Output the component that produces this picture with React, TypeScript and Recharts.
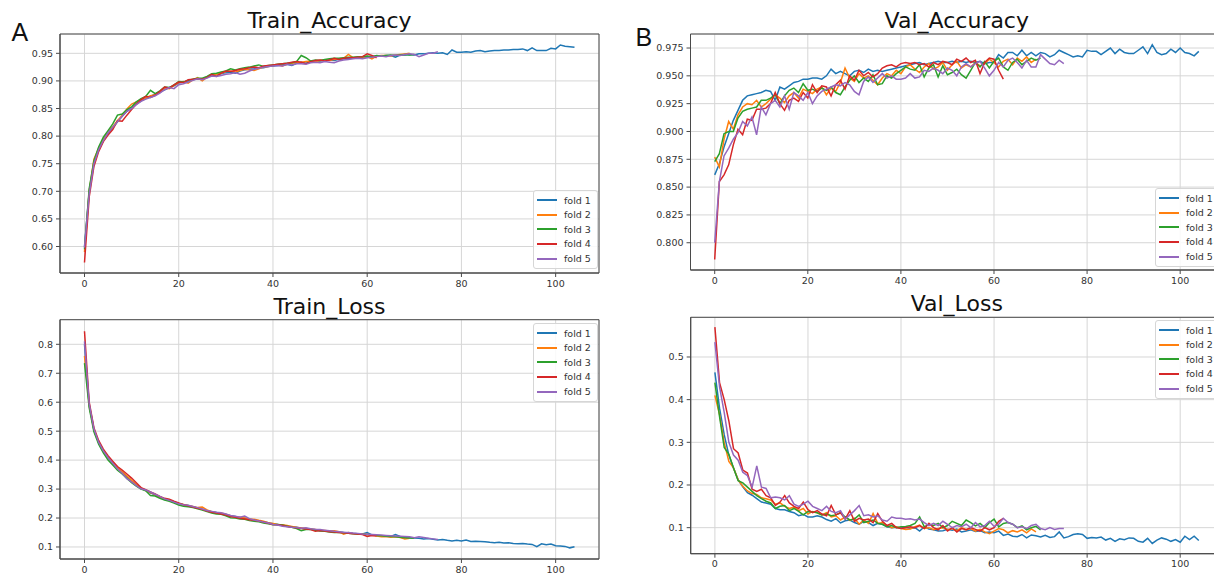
import React from 'react';
import { LineChart, Line, XAxis, YAxis, CartesianGrid, Legend, ReferenceArea } from 'recharts';

const foldNames = ['fold 1', 'fold 2', 'fold 3', 'fold 4', 'fold 5'];
const foldKeys = ['f1', 'f2', 'f3', 'f4', 'f5'];
const foldColors = ['#1f77b4', '#ff7f0e', '#2ca02c', '#d62728', '#9467bd'];
const xTicks = [0, 20, 40, 60, 80, 100];
const epochCount = 105;

// ---------- Train accuracy ----------
const trainAccF1 = [
  0.600, 0.700, 0.752, 0.776, 0.792, 0.805, 0.815, 0.826, 0.836, 0.845,
  0.851, 0.858, 0.864, 0.868, 0.872, 0.876, 0.880, 0.884, 0.888, 0.891,
  0.896, 0.898, 0.900, 0.902, 0.904, 0.903, 0.907, 0.910, 0.911, 0.913,
  0.915, 0.916, 0.914, 0.918, 0.920, 0.921, 0.922, 0.924, 0.924, 0.926,
  0.927, 0.928, 0.929, 0.930, 0.928, 0.932, 0.934, 0.932, 0.935, 0.936,
  0.936, 0.937, 0.938, 0.937, 0.939, 0.940, 0.941, 0.941, 0.942, 0.943,
  0.943, 0.944, 0.945, 0.945, 0.946, 0.946, 0.943, 0.947, 0.947, 0.948,
  0.947, 0.949, 0.949, 0.950, 0.951, 0.950, 0.951, 0.948, 0.956, 0.952,
  0.952, 0.953, 0.952, 0.954, 0.955, 0.953, 0.954, 0.955, 0.955, 0.956,
  0.956, 0.957, 0.957, 0.958, 0.955, 0.960, 0.955, 0.955, 0.955, 0.959,
  0.958, 0.965, 0.963, 0.962, 0.961,
];
const trainAccF2 = [
  0.590, 0.700, 0.758, 0.778, 0.795, 0.808, 0.817, 0.828, 0.838, 0.849,
  0.858, 0.862, 0.866, 0.869, 0.873, 0.875, 0.880, 0.887, 0.886, 0.892,
  0.897, 0.899, 0.896, 0.902, 0.906, 0.900, 0.907, 0.911, 0.912, 0.914,
  0.917, 0.918, 0.916, 0.919, 0.921, 0.920, 0.919, 0.922, 0.925, 0.926,
  0.928, 0.929, 0.927, 0.930, 0.932, 0.933, 0.934, 0.935, 0.936, 0.935,
  0.937, 0.938, 0.937, 0.939, 0.940, 0.941, 0.948, 0.942, 0.943, 0.942,
  0.944, 0.940, 0.945, 0.946, 0.946, 0.945, 0.947, 0.948, 0.949, 0.950,
];
const trainAccF3 = [
  0.595, 0.705, 0.755, 0.780, 0.798, 0.810, 0.822, 0.838, 0.840, 0.848,
  0.853, 0.862, 0.868, 0.872, 0.883, 0.877, 0.882, 0.889, 0.888, 0.893,
  0.899, 0.898, 0.901, 0.903, 0.905, 0.905, 0.908, 0.913, 0.914, 0.916,
  0.918, 0.922, 0.920, 0.922, 0.924, 0.925, 0.927, 0.929, 0.926, 0.928,
  0.929, 0.930, 0.931, 0.932, 0.933, 0.935, 0.946, 0.942, 0.936, 0.938,
  0.937, 0.939, 0.940, 0.941, 0.941, 0.942, 0.943, 0.943, 0.944, 0.944,
  0.945, 0.944, 0.946, 0.945, 0.946, 0.947, 0.946, 0.947, 0.948, 0.947,
  0.948,
];
const trainAccF4 = [
  0.571, 0.690, 0.745, 0.772, 0.790, 0.802, 0.812, 0.828, 0.827, 0.838,
  0.848, 0.858, 0.866, 0.872, 0.870, 0.874, 0.881, 0.889, 0.887, 0.893,
  0.898, 0.897, 0.902, 0.903, 0.904, 0.903, 0.906, 0.912, 0.908, 0.914,
  0.918, 0.917, 0.919, 0.921, 0.922, 0.924, 0.925, 0.924, 0.927, 0.928,
  0.929, 0.930, 0.931, 0.932, 0.934, 0.935, 0.934, 0.931, 0.935, 0.937,
  0.938, 0.936, 0.938, 0.941, 0.939, 0.941, 0.942, 0.942, 0.943, 0.944,
  0.949, 0.946, 0.942,
];
const trainAccF5 = [
  0.598, 0.695, 0.750, 0.775, 0.792, 0.806, 0.816, 0.826, 0.836, 0.845,
  0.850, 0.857, 0.863, 0.867, 0.870, 0.873, 0.878, 0.884, 0.888, 0.886,
  0.893, 0.895, 0.898, 0.901, 0.904, 0.902, 0.905, 0.909, 0.908, 0.910,
  0.912, 0.913, 0.915, 0.912, 0.914, 0.918, 0.921, 0.923, 0.925, 0.926,
  0.927, 0.928, 0.927, 0.930, 0.929, 0.931, 0.931, 0.930, 0.933, 0.934,
  0.933, 0.935, 0.934, 0.933, 0.936, 0.938, 0.939, 0.940, 0.941, 0.940,
  0.942, 0.943, 0.944, 0.945, 0.944, 0.946, 0.947, 0.946, 0.948, 0.949,
  0.948, 0.944, 0.947, 0.950, 0.950, 0.953,
];

// ---------- Val accuracy ----------
const valAccF1 = [
  0.861, 0.871, 0.886, 0.898, 0.910, 0.919, 0.928, 0.932, 0.933, 0.934,
  0.935, 0.937, 0.936, 0.928, 0.940, 0.938, 0.941, 0.944, 0.945, 0.947,
  0.947, 0.948, 0.948, 0.947, 0.950, 0.956, 0.952, 0.954, 0.952, 0.950,
  0.954, 0.955, 0.953, 0.956, 0.954, 0.955, 0.954, 0.955, 0.956, 0.957,
  0.958, 0.959, 0.960, 0.961, 0.962, 0.960, 0.961, 0.962, 0.963, 0.962,
  0.962, 0.963, 0.962, 0.963, 0.962, 0.963, 0.962, 0.963, 0.961, 0.962,
  0.962, 0.969, 0.966, 0.971, 0.971, 0.968, 0.973, 0.968, 0.971, 0.968,
  0.971, 0.970, 0.967, 0.969, 0.973, 0.971, 0.969, 0.967, 0.968, 0.967,
  0.973, 0.972, 0.972, 0.969, 0.972, 0.975, 0.970, 0.974, 0.971, 0.970,
  0.970, 0.973, 0.976, 0.970, 0.978, 0.971, 0.969, 0.970, 0.974, 0.971,
  0.975, 0.971, 0.970, 0.968, 0.972,
];
const valAccF2 = [
  0.877, 0.868, 0.893, 0.909, 0.902, 0.915, 0.922, 0.925, 0.924, 0.928,
  0.922, 0.925, 0.929, 0.933, 0.930, 0.926, 0.932, 0.935, 0.930, 0.938,
  0.936, 0.934, 0.938, 0.940, 0.933, 0.939, 0.936, 0.944, 0.957, 0.948,
  0.945, 0.952, 0.948, 0.950, 0.946, 0.942, 0.948, 0.952, 0.950, 0.955,
  0.952, 0.958, 0.960, 0.956, 0.953, 0.958, 0.961, 0.956, 0.958, 0.962,
  0.955, 0.960, 0.963, 0.957, 0.960, 0.958, 0.962, 0.959, 0.961, 0.965,
  0.962, 0.958, 0.963, 0.965, 0.960, 0.966, 0.963, 0.967, 0.962, 0.965,
];
const valAccF3 = [
  0.873, 0.880, 0.898, 0.900, 0.900, 0.912, 0.918, 0.920, 0.921, 0.922,
  0.928, 0.928, 0.930, 0.933, 0.925, 0.932, 0.937, 0.939, 0.935, 0.943,
  0.937, 0.938, 0.936, 0.939, 0.937, 0.940, 0.935, 0.933, 0.940, 0.946,
  0.950, 0.944, 0.948, 0.945, 0.951, 0.942, 0.943, 0.950, 0.948, 0.952,
  0.955, 0.958, 0.956, 0.955, 0.960, 0.949, 0.957, 0.960, 0.949, 0.959,
  0.951, 0.953, 0.956, 0.951, 0.948, 0.955, 0.962, 0.958, 0.963, 0.957,
  0.963, 0.966, 0.958, 0.955, 0.962, 0.965, 0.960, 0.963, 0.966, 0.964,
  0.966,
];
const valAccF4 = [
  0.785, 0.855, 0.861, 0.870, 0.888, 0.902, 0.897, 0.911, 0.910, 0.920,
  0.920, 0.921, 0.925, 0.935, 0.925, 0.919, 0.928, 0.930, 0.927, 0.935,
  0.930, 0.942, 0.935, 0.941, 0.940, 0.932, 0.942, 0.946, 0.938, 0.950,
  0.946, 0.955, 0.950, 0.953, 0.949, 0.952, 0.957, 0.959, 0.960, 0.958,
  0.961, 0.962, 0.961, 0.962, 0.960, 0.961, 0.958, 0.962, 0.960, 0.963,
  0.962, 0.960, 0.965, 0.963, 0.966, 0.962, 0.964, 0.952, 0.962, 0.966,
  0.965, 0.955, 0.947,
];
const valAccF5 = [
  0.800, 0.855, 0.878, 0.885, 0.893, 0.899, 0.909, 0.905, 0.913, 0.897,
  0.922, 0.915, 0.925, 0.928, 0.922, 0.932, 0.920, 0.935, 0.932, 0.928,
  0.935, 0.925, 0.932, 0.936, 0.938, 0.940, 0.942, 0.941, 0.944, 0.942,
  0.936, 0.933, 0.945, 0.949, 0.944, 0.948, 0.952, 0.948, 0.950, 0.947,
  0.947, 0.948, 0.952, 0.948, 0.949, 0.955, 0.954, 0.957, 0.955, 0.952,
  0.957, 0.955, 0.950, 0.958, 0.961, 0.958, 0.961, 0.963, 0.957, 0.950,
  0.955, 0.962, 0.958, 0.964, 0.966, 0.962, 0.957, 0.964, 0.958, 0.958,
  0.969, 0.965, 0.961, 0.960, 0.964, 0.961,
];

// ---------- Train loss ----------
const trainLossF1 = [
  0.800, 0.590, 0.505, 0.460, 0.430, 0.408, 0.388, 0.372, 0.358, 0.343,
  0.328, 0.315, 0.302, 0.296, 0.286, 0.280, 0.272, 0.264, 0.262, 0.256,
  0.250, 0.246, 0.243, 0.239, 0.235, 0.230, 0.226, 0.222, 0.219, 0.216,
  0.212, 0.208, 0.205, 0.202, 0.199, 0.196, 0.193, 0.190, 0.187, 0.184,
  0.180, 0.178, 0.175, 0.172, 0.170, 0.168, 0.165, 0.163, 0.161, 0.159,
  0.157, 0.155, 0.154, 0.152, 0.151, 0.150, 0.148, 0.147, 0.146, 0.145,
  0.150, 0.142, 0.140, 0.139, 0.137, 0.136, 0.143, 0.136, 0.134, 0.132,
  0.131, 0.130, 0.128, 0.129, 0.127, 0.124, 0.126, 0.123, 0.121, 0.123,
  0.121, 0.124, 0.119, 0.120, 0.119, 0.118, 0.116, 0.115, 0.116, 0.114,
  0.115, 0.112, 0.111, 0.112, 0.110, 0.109, 0.101, 0.111, 0.108, 0.110,
  0.104, 0.103, 0.102, 0.097, 0.101,
];
const trainLossF2 = [
  0.760, 0.590, 0.505, 0.462, 0.432, 0.410, 0.390, 0.375, 0.360, 0.345,
  0.330, 0.316, 0.303, 0.295, 0.288, 0.281, 0.273, 0.266, 0.262, 0.255,
  0.250, 0.247, 0.243, 0.240, 0.236, 0.238, 0.228, 0.222, 0.218, 0.217,
  0.213, 0.208, 0.204, 0.203, 0.200, 0.197, 0.196, 0.192, 0.189, 0.184,
  0.181, 0.178, 0.177, 0.174, 0.171, 0.168, 0.166, 0.164, 0.162, 0.160,
  0.158, 0.157, 0.155, 0.156, 0.153, 0.144, 0.150, 0.147, 0.146, 0.145,
  0.143, 0.141, 0.138, 0.135, 0.136, 0.134, 0.135, 0.133, 0.128, 0.130,
];
const trainLossF3 = [
  0.735, 0.580, 0.498, 0.455, 0.425, 0.400, 0.383, 0.365, 0.352, 0.337,
  0.322, 0.310, 0.300, 0.294, 0.278, 0.276, 0.268, 0.262, 0.258, 0.252,
  0.245, 0.241, 0.239, 0.236, 0.232, 0.228, 0.222, 0.217, 0.214, 0.213,
  0.208, 0.201, 0.200, 0.197, 0.196, 0.191, 0.189, 0.187, 0.183, 0.180,
  0.177, 0.178, 0.176, 0.172, 0.168, 0.164, 0.156, 0.160, 0.161, 0.158,
  0.155, 0.154, 0.152, 0.150, 0.151, 0.149, 0.147, 0.146, 0.145, 0.144,
  0.143, 0.141, 0.140, 0.139, 0.137, 0.136, 0.135, 0.134, 0.132, 0.131,
  0.130,
];
const trainLossF4 = [
  0.845, 0.600, 0.512, 0.468, 0.438, 0.415, 0.396, 0.378, 0.366, 0.352,
  0.338, 0.322, 0.305, 0.298, 0.290, 0.283, 0.275, 0.268, 0.265, 0.258,
  0.252, 0.246, 0.242, 0.238, 0.234, 0.230, 0.224, 0.220, 0.217, 0.214,
  0.210, 0.205, 0.203, 0.199, 0.197, 0.194, 0.192, 0.190, 0.186, 0.182,
  0.178, 0.177, 0.174, 0.171, 0.168, 0.166, 0.164, 0.162, 0.160, 0.154,
  0.157, 0.155, 0.153, 0.152, 0.150, 0.149, 0.147, 0.146, 0.145, 0.143,
  0.136, 0.140, 0.139,
];
const trainLossF5 = [
  0.810, 0.595, 0.508, 0.462, 0.432, 0.409, 0.389, 0.370, 0.355, 0.336,
  0.325, 0.312, 0.301, 0.297, 0.290, 0.282, 0.275, 0.266, 0.261, 0.255,
  0.249, 0.246, 0.244, 0.240, 0.236, 0.231, 0.226, 0.223, 0.220, 0.218,
  0.214, 0.209, 0.206, 0.203, 0.207, 0.198, 0.193, 0.190, 0.186, 0.183,
  0.178, 0.176, 0.172, 0.170, 0.168, 0.167, 0.165, 0.166, 0.163, 0.161,
  0.160, 0.158, 0.156, 0.154, 0.153, 0.151, 0.150, 0.148, 0.147, 0.145,
  0.144, 0.143, 0.142, 0.141, 0.140, 0.139, 0.138, 0.137, 0.136, 0.135,
  0.132, 0.135, 0.133, 0.130, 0.128, 0.126,
];

// ---------- Val loss ----------
const valLossF1 = [
  0.464, 0.380, 0.318, 0.270, 0.240, 0.212, 0.196, 0.182, 0.176, 0.168,
  0.160, 0.158, 0.155, 0.145, 0.142, 0.142, 0.138, 0.135, 0.128, 0.131,
  0.125, 0.125, 0.128, 0.125, 0.119, 0.115, 0.121, 0.111, 0.116, 0.118,
  0.112, 0.108, 0.115, 0.112, 0.105, 0.110, 0.108, 0.102, 0.100, 0.101,
  0.099, 0.101, 0.098, 0.100, 0.092, 0.102, 0.097, 0.095, 0.092, 0.093,
  0.096, 0.094, 0.097, 0.090, 0.092, 0.095, 0.091, 0.093, 0.088, 0.090,
  0.088, 0.092, 0.082, 0.085, 0.080, 0.079, 0.084, 0.076, 0.083, 0.081,
  0.078, 0.082, 0.077, 0.079, 0.090, 0.076, 0.079, 0.084, 0.086, 0.084,
  0.075, 0.077, 0.076, 0.078, 0.071, 0.075, 0.068, 0.074, 0.072, 0.076,
  0.075, 0.068, 0.066, 0.075, 0.063, 0.071, 0.076, 0.073, 0.068, 0.072,
  0.066, 0.080, 0.072, 0.080, 0.070,
];
const valLossF2 = [
  0.410, 0.365, 0.300, 0.255, 0.240, 0.212, 0.197, 0.186, 0.180, 0.178,
  0.170, 0.168, 0.165, 0.155, 0.158, 0.150, 0.145, 0.148, 0.140, 0.145,
  0.132, 0.138, 0.135, 0.130, 0.135, 0.125, 0.128, 0.118, 0.125, 0.117,
  0.122, 0.108, 0.118, 0.110, 0.133, 0.110, 0.112, 0.105, 0.100, 0.102,
  0.098, 0.096, 0.097, 0.102, 0.106, 0.098, 0.100, 0.095, 0.098, 0.100,
  0.095, 0.098, 0.093, 0.100, 0.095, 0.098, 0.092, 0.096, 0.090, 0.086,
  0.092, 0.098, 0.095, 0.088, 0.093, 0.090, 0.095, 0.088, 0.097, 0.090,
];
const valLossF3 = [
  0.440, 0.360, 0.288, 0.272, 0.240, 0.210, 0.205, 0.195, 0.185, 0.175,
  0.168, 0.162, 0.158, 0.145, 0.150, 0.152, 0.140, 0.145, 0.138, 0.130,
  0.138, 0.137, 0.135, 0.130, 0.132, 0.128, 0.130, 0.135, 0.125, 0.118,
  0.120, 0.130, 0.112, 0.115, 0.118, 0.110, 0.108, 0.102, 0.105, 0.100,
  0.102, 0.103, 0.105, 0.110, 0.125, 0.102, 0.108, 0.105, 0.110, 0.100,
  0.105, 0.115, 0.110, 0.105, 0.118, 0.112, 0.104, 0.110, 0.100, 0.112,
  0.120, 0.102, 0.110, 0.112, 0.108, 0.100, 0.104, 0.095, 0.100, 0.103,
  0.095,
];
const valLossF4 = [
  0.570, 0.440, 0.400, 0.350, 0.285, 0.275, 0.235, 0.228, 0.190, 0.185,
  0.190, 0.175, 0.170, 0.152, 0.160, 0.175, 0.158, 0.150, 0.145, 0.160,
  0.142, 0.135, 0.140, 0.132, 0.128, 0.152, 0.130, 0.135, 0.120, 0.140,
  0.115, 0.122, 0.118, 0.120, 0.112, 0.133, 0.115, 0.105, 0.110, 0.100,
  0.098, 0.100, 0.102, 0.100, 0.105, 0.098, 0.110, 0.100, 0.095, 0.105,
  0.092, 0.100, 0.090, 0.098, 0.095, 0.100, 0.096, 0.092, 0.100, 0.095,
  0.100, 0.115, 0.122,
];
const valLossF5 = [
  0.535, 0.430, 0.370, 0.300, 0.270, 0.258, 0.230, 0.222, 0.195, 0.245,
  0.195, 0.192, 0.170, 0.172, 0.170, 0.165, 0.175, 0.155, 0.150, 0.155,
  0.162, 0.150, 0.145, 0.140, 0.150, 0.138, 0.135, 0.140, 0.120, 0.130,
  0.140, 0.152, 0.128, 0.130, 0.125, 0.128, 0.118, 0.115, 0.125, 0.122,
  0.122, 0.120, 0.121, 0.118, 0.120, 0.112, 0.105, 0.110, 0.105, 0.115,
  0.108, 0.100, 0.105, 0.102, 0.108, 0.100, 0.112, 0.102, 0.105, 0.115,
  0.103, 0.108, 0.122, 0.112, 0.108, 0.100, 0.102, 0.098, 0.105, 0.108,
  0.098, 0.095, 0.100, 0.096, 0.098, 0.098,
];

// Y-axis tick values
const trainAccTicks = [0.6, 0.65, 0.7, 0.75, 0.8, 0.85, 0.9, 0.95];
const valAccTicks = [0.8, 0.825, 0.85, 0.875, 0.9, 0.925, 0.95, 0.975];
const trainLossTicks = [0.1, 0.2, 0.3, 0.4, 0.5, 0.6, 0.7, 0.8];
const valLossTicks = [0.1, 0.2, 0.3, 0.4, 0.5];

const buildRows = (series: number[][]) => {
  const rows: any[] = [];
  for (let e = 0; e < epochCount; e++) {
    const r: any = { epoch: e };
    series.forEach((s, k) => {
      if (e < s.length) r[foldKeys[k]] = s[e];
    });
    rows.push(r);
  }
  return rows;
};

const FONT = 'DejaVu Sans, Verdana, sans-serif';
const FRAME = '#4a4a4a';
const GRID = '#d6d6d6';
const TICK_FILL = '#333';

const LegendBox = () => (
  <div
    style={{
      background: 'rgba(255,255,255,0.85)',
      border: '1px solid #d6d6d6',
      borderRadius: 3,
      padding: '2px 6px 2px 3px',
      fontFamily: FONT,
      fontSize: 9.5,
      color: '#333',
      lineHeight: 1,
    }}
  >
    {foldNames.map((n, i) => (
      <div key={n} style={{ display: 'flex', alignItems: 'center', height: 14.6 }}>
        <span
          style={{
            display: 'inline-block',
            width: 20,
            height: 0,
            borderTop: `2px solid ${foldColors[i]}`,
            marginRight: 7,
          }}
        />
        <span>{n}</span>
      </div>
    ))}
  </div>
);

type PanelProps = {
  left: number;
  top: number;
  width: number;
  height: number;
  marginTop: number;
  marginRight: number;
  yAxisWidth: number;
  xAxisHeight: number;
  yDomain: [number, number];
  yTicks: number[];
  decimals: number;
  series: number[][];
  legendLeft: number;
  legendTop: number;
};

const xDomain: [number, number] = [-5.2, 109.2];

const Panel = (p: PanelProps) => {
  const data = buildRows(p.series);
  return (
    <div style={{ position: 'absolute', left: p.left, top: p.top, width: p.width, height: p.height }}>
      <LineChart
        width={p.width}
        height={p.height}
        data={data}
        margin={{ top: p.marginTop, right: p.marginRight, bottom: 0, left: 0 }}
      >
        <CartesianGrid stroke={GRID} strokeWidth={1} />
        <XAxis
          dataKey="epoch"
          type="number"
          domain={xDomain}
          allowDataOverflow
          ticks={xTicks}
          height={p.xAxisHeight}
          tickSize={4}
          tickMargin={3}
          stroke={FRAME}
          tick={{ fontSize: 9.5, fill: TICK_FILL, fontFamily: FONT }}
        />
        <YAxis
          type="number"
          domain={p.yDomain}
          allowDataOverflow
          ticks={p.yTicks}
          width={p.yAxisWidth}
          tickSize={4}
          tickMargin={3}
          stroke={FRAME}
          tickFormatter={(v: number) => v.toFixed(p.decimals)}
          tick={{ fontSize: 9.5, fill: TICK_FILL, fontFamily: FONT }}
        />
        {foldKeys.map((k, i) => (
          <Line
            key={k}
            dataKey={k}
            name={foldNames[i]}
            type="linear"
            stroke={foldColors[i]}
            strokeWidth={1.5}
            dot={false}
            activeDot={false}
            isAnimationActive={false}
            connectNulls={false}
          />
        ))}
        <ReferenceArea
          x1={xDomain[0]}
          x2={xDomain[1]}
          y1={p.yDomain[0]}
          y2={p.yDomain[1]}
          fill="none"
          fillOpacity={0}
          stroke={FRAME}
          strokeWidth={1}
          ifOverflow="visible"
        />
        <Legend
          layout="vertical"
          align="center"
          verticalAlign="middle"
          content={() => <LegendBox />}
          wrapperStyle={{ position: 'absolute', left: p.legendLeft, top: p.legendTop, width: 'auto', height: 'auto' }}
        />
      </LineChart>
    </div>
  );
};

export default function App() {
  return (
    <div
      style={{
        position: 'absolute',
        left: 0,
        top: 0,
        width: 1214,
        height: 575,
        overflow: 'hidden',
        background: '#fff',
      }}
    >
      <Panel
        left={0}
        top={0}
        width={610}
        height={295}
        marginTop={34}
        marginRight={11}
        yAxisWidth={60}
        xAxisHeight={22}
        yDomain={[0.552, 0.985]}
        yTicks={trainAccTicks}
        decimals={2}
        series={[trainAccF1, trainAccF2, trainAccF3, trainAccF4, trainAccF5]}
        legendLeft={533}
        legendTop={190}
      />
      <Panel
        left={620}
        top={0}
        width={610}
        height={295}
        marginTop={34}
        marginRight={7}
        yAxisWidth={70.5}
        xAxisHeight={25}
        yDomain={[0.7755, 0.9876]}
        yTicks={valAccTicks}
        decimals={3}
        series={[valAccF1, valAccF2, valAccF3, valAccF4, valAccF5]}
        legendLeft={535}
        legendTop={188}
      />
      <Panel
        left={0}
        top={290}
        width={610}
        height={285}
        marginTop={29.7}
        marginRight={11}
        yAxisWidth={60}
        xAxisHeight={16}
        yDomain={[0.0585, 0.885]}
        yTicks={trainLossTicks}
        decimals={1}
        series={[trainLossF1, trainLossF2, trainLossF3, trainLossF4, trainLossF5]}
        legendLeft={533}
        legendTop={33}
      />
      <Panel
        left={620}
        top={290}
        width={610}
        height={285}
        marginTop={27.3}
        marginRight={7}
        yAxisWidth={70.7}
        xAxisHeight={21.3}
        yDomain={[0.039, 0.593]}
        yTicks={valLossTicks}
        decimals={1}
        series={[valLossF1, valLossF2, valLossF3, valLossF4, valLossF5]}
        legendLeft={535}
        legendTop={30}
      />
      <svg
        width={1214}
        height={575}
        style={{ position: 'absolute', left: 0, top: 0, pointerEvents: 'none' }}
      >
        <g fontFamily={FONT} fontSize={22} fill="#111" textAnchor="middle">
          <text x={329.5} y={27.7}>Train_Accuracy</text>
          <text x={956.8} y={27.7}>Val_Accuracy</text>
          <text x={329.5} y={313.7}>Train_Loss</text>
          <text x={956.8} y={311}>Val_Loss</text>
        </g>
        <g fontFamily="Liberation Sans, Arial, sans-serif" fontSize={25} fill="#111">
          <text x={11.5} y={40.7}>A</text>
          <text x={635.5} y={46}>B</text>
        </g>
      </svg>
    </div>
  );
}
